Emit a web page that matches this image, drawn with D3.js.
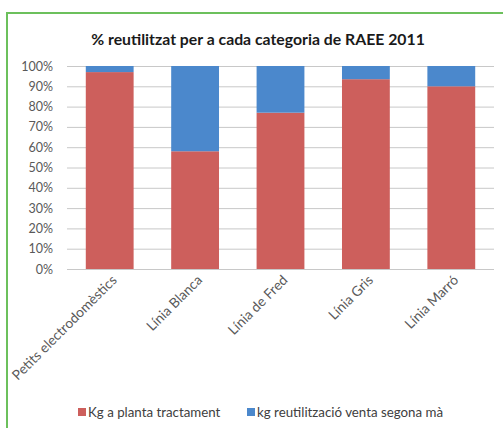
<!DOCTYPE html>
<html><head><meta charset="utf-8">
<script src="https://cdn.jsdelivr.net/npm/d3@7"></script>
<style>
html,body{margin:0;padding:0;background:#fff;}
svg{display:block;}
</style></head>
<body>
<svg id="chart" width="503" height="428"></svg>
<script>
const categories = ["Petits electrodomèstics", "Línia Blanca", "Línia de Fred", "Línia Gris", "Línia Marró"];
const seriesNames = ["Kg a planta tractament", "kg reutilització venta segona mà"];
const plantaValues = [0.97, 0.58, 0.77, 0.935, 0.90];
const reutilValues = [0.03, 0.42, 0.23, 0.065, 0.10];
const yTicks = [0, 0.1, 0.2, 0.3, 0.4, 0.5, 0.6, 0.7, 0.8, 0.9, 1.0];
const colors = ["#cd5f5c", "#4b88cc"];
const title = "% reutilitzat per a cada categoria de RAEE 2011";

const svg = d3.select("#chart");
const font = "Lato, 'Open Sans', sans-serif";

svg.append("rect").attr("x", 0).attr("y", 0).attr("width", 503).attr("height", 428).attr("fill", "#fff");
svg.append("line").attr("x1", 7).attr("x2", 503).attr("y1", 13).attr("y2", 13).attr("stroke", "#6cc05c").attr("stroke-width", 2);
svg.append("line").attr("x1", 7).attr("x2", 7).attr("y1", 12).attr("y2", 428).attr("stroke", "#6cc05c").attr("stroke-width", 2);

const m = {left: 67, right: 494, top: 66, bottom: 269};
const x = d3.scaleBand().domain(categories).range([m.left, m.right]).paddingInner(0.44).paddingOuter(0.22);
const y = d3.scaleLinear().domain([0, 1]).range([m.bottom, m.top]);

svg.append("text").attr("x", 258).attr("y", 45).attr("text-anchor", "middle")
  .attr("font-family", font).attr("font-weight", "bold").attr("font-size", 15.8).attr("fill", "#1a1a1a").text(title);

const yAxis = d3.axisLeft(y).tickValues(yTicks).tickFormat(d3.format(".0%")).tickSize(-(m.right - m.left)).tickPadding(14);
const gy = svg.append("g").attr("transform", `translate(${m.left},0)`).call(yAxis);
gy.select(".domain").remove();
gy.selectAll(".tick line").attr("stroke", "#c8c8c8").attr("stroke-width", 1);
gy.selectAll(".tick text").attr("font-family", font).attr("font-size", 12.5).attr("fill", "#595959");

const stackData = categories.map((c, i) => ({cat: c, planta: plantaValues[i], reutil: reutilValues[i]}));
const stack = d3.stack().keys(["planta", "reutil"])(stackData);

svg.append("g").selectAll("g").data(stack).join("g").attr("fill", (d, i) => colors[i])
  .selectAll("rect").data(d => d).join("rect")
  .attr("x", d => x(d.data.cat)).attr("width", x.bandwidth())
  .attr("y", d => y(d[1])).attr("height", d => y(d[0]) - y(d[1]));

const xAxis = d3.axisBottom(x).tickSize(0).tickPadding(0);
const gx = svg.append("g").attr("transform", `translate(0,${m.bottom})`).call(xAxis);
gx.select(".domain").remove();
gx.selectAll(".tick text").attr("font-family", font).attr("font-size", 13.8).attr("fill", "#595959")
  .attr("text-anchor", "end").attr("dy", 0).attr("y", 0)
  .attr("transform", "translate(8,12) rotate(-45)");

const legend = svg.append("g").attr("font-family", font).attr("font-size", 13.3);
const legX = [78, 247];
seriesNames.forEach((s, i) => {
  legend.append("rect").attr("x", legX[i]).attr("y", 408).attr("width", 8).attr("height", 8).attr("fill", colors[i]);
  legend.append("text").attr("x", legX[i] + 10).attr("y", 417).text(s).attr("fill", "#404040");
});
</script>
</body></html>
